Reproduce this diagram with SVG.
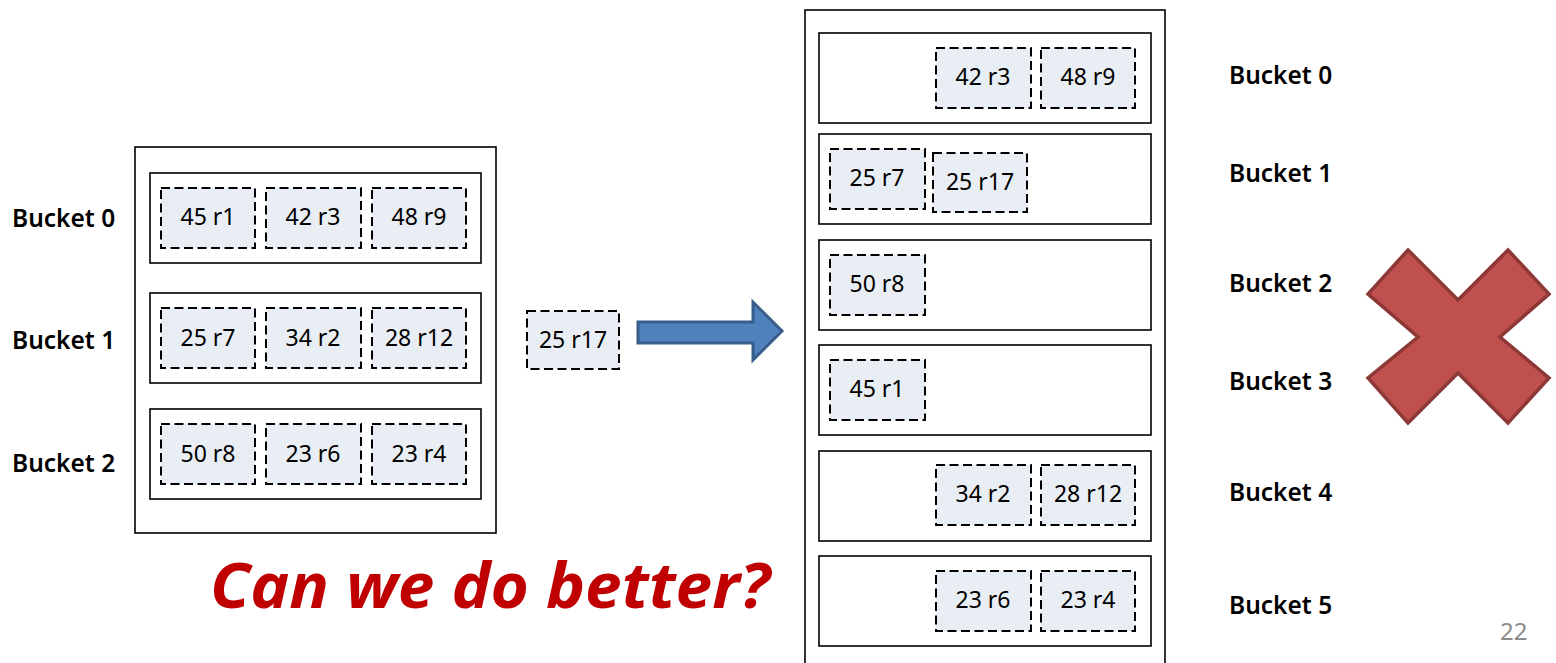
<svg xmlns="http://www.w3.org/2000/svg" width="1556" height="663" viewBox="0 0 1556 663">
  <style>
    .frame { fill: #ffffff; stroke: #000000; stroke-width: 1.6; }
    .bucket { fill: #ffffff; stroke: #000000; stroke-width: 1.6; }
    .rec { fill: #E9EDF4; stroke: #000000; stroke-width: 2; stroke-dasharray: 9 4.5; }
    .rt { font-family: "Noto Sans", "Open Sans", sans-serif; font-size: 23px; fill: #000000; text-anchor: middle; }
    .lbl { font-family: "Noto Sans", "Open Sans", sans-serif; font-size: 24.5px; font-weight: 600; fill: #000000; }
    .q { font-family: "Open Sans", "Noto Sans", sans-serif; font-size: 63px; font-weight: bold; font-style: italic; fill: #C00000; }
    .pg { font-family: "Noto Sans", "Open Sans", sans-serif; font-size: 24px; fill: #8C8C8C; }
  </style>

  <!-- left table: three buckets -->
  <g id="left-table">
    <rect class="frame" x="135" y="147" width="361" height="386"/>
  </g>
  <g id="left-bucket-0">
    <rect class="bucket" x="150" y="173" width="331" height="90"/>
    <rect class="rec" x="161" y="188" width="94" height="60"/><text class="rt" x="208" y="225">45 r1</text>
    <rect class="rec" x="266" y="188" width="95" height="60"/><text class="rt" x="313" y="225">42 r3</text>
    <rect class="rec" x="372" y="188" width="94" height="60"/><text class="rt" x="419" y="225">48 r9</text>
  </g>
  <g id="left-bucket-1">
    <rect class="bucket" x="150" y="293" width="331" height="90"/>
    <rect class="rec" x="161" y="308" width="94" height="60"/><text class="rt" x="208" y="346">25 r7</text>
    <rect class="rec" x="266" y="308" width="95" height="60"/><text class="rt" x="313" y="346">34 r2</text>
    <rect class="rec" x="372" y="308" width="94" height="60"/><text class="rt" x="419" y="346">28 r12</text>
  </g>
  <g id="left-bucket-2">
    <rect class="bucket" x="150" y="409" width="331" height="90"/>
    <rect class="rec" x="161" y="424" width="94" height="60"/><text class="rt" x="208" y="462">50 r8</text>
    <rect class="rec" x="266" y="424" width="95" height="60"/><text class="rt" x="313" y="462">23 r6</text>
    <rect class="rec" x="372" y="424" width="94" height="60"/><text class="rt" x="419" y="462">23 r4</text>
  </g>
  <g id="left-labels">
    <text class="lbl" x="12" y="227">Bucket 0</text>
    <text class="lbl" x="12" y="349">Bucket 1</text>
    <text class="lbl" x="12" y="472">Bucket 2</text>
  </g>

  <!-- incoming record -->
  <g id="new-record">
    <rect class="rec" x="527" y="311" width="92" height="58"/><text class="rt" x="573" y="348">25 r17</text>
  </g>

  <!-- block arrow -->
  <g id="connectors">
    <path d="M638,322 H753 V302 L782,331 L753,360 V343 H638 Z" fill="#4F81BD" stroke="#385D8A" stroke-width="3" stroke-linejoin="miter"/>
  </g>

  <!-- right table: six buckets -->
  <g id="right-table">
    <rect class="frame" x="805" y="10" width="360" height="670"/>
  </g>
  <g id="right-bucket-0">
    <rect class="bucket" x="819" y="33" width="332" height="90"/>
    <rect class="rec" x="936" y="48" width="95" height="60"/><text class="rt" x="983" y="85">42 r3</text>
    <rect class="rec" x="1041" y="48" width="94" height="60"/><text class="rt" x="1088" y="85">48 r9</text>
  </g>
  <g id="right-bucket-1">
    <rect class="bucket" x="819" y="134" width="332" height="90"/>
    <rect class="rec" x="830" y="149" width="95" height="60"/><text class="rt" x="877" y="186">25 r7</text>
    <rect class="rec" x="933" y="153" width="94" height="59"/><text class="rt" x="980" y="190">25 r17</text>
  </g>
  <g id="right-bucket-2">
    <rect class="bucket" x="819" y="240" width="332" height="90"/>
    <rect class="rec" x="830" y="255" width="95" height="60"/><text class="rt" x="877" y="292">50 r8</text>
  </g>
  <g id="right-bucket-3">
    <rect class="bucket" x="819" y="345" width="332" height="90"/>
    <rect class="rec" x="830" y="360" width="95" height="60"/><text class="rt" x="877" y="397">45 r1</text>
  </g>
  <g id="right-bucket-4">
    <rect class="bucket" x="819" y="451" width="332" height="90"/>
    <rect class="rec" x="936" y="465" width="95" height="60"/><text class="rt" x="983" y="502">34 r2</text>
    <rect class="rec" x="1041" y="465" width="94" height="60"/><text class="rt" x="1088" y="502">28 r12</text>
  </g>
  <g id="right-bucket-5">
    <rect class="bucket" x="819" y="556" width="332" height="90"/>
    <rect class="rec" x="936" y="571" width="95" height="60"/><text class="rt" x="983" y="608">23 r6</text>
    <rect class="rec" x="1041" y="571" width="94" height="60"/><text class="rt" x="1088" y="608">23 r4</text>
  </g>
  <g id="right-labels">
    <text class="lbl" x="1229" y="84">Bucket 0</text>
    <text class="lbl" x="1229" y="182">Bucket 1</text>
    <text class="lbl" x="1229" y="292">Bucket 2</text>
    <text class="lbl" x="1229" y="390">Bucket 3</text>
    <text class="lbl" x="1229" y="501">Bucket 4</text>
    <text class="lbl" x="1229" y="614">Bucket 5</text>
  </g>

  <!-- cross mark -->
  <g id="cross">
    <polygon points="1408,250 1458,300 1508,250 1549,294 1500,337 1549,378 1508,423 1458,373 1408,423 1368,378 1418,337 1368,294" fill="#C0504D" stroke="#8C3836" stroke-width="3.5" stroke-linejoin="miter"/>
  </g>

  <text class="q" x="210" y="608" textLength="560" lengthAdjust="spacingAndGlyphs">Can we do better?</text>
  <text class="pg" x="1500" y="640">22</text>
</svg>
